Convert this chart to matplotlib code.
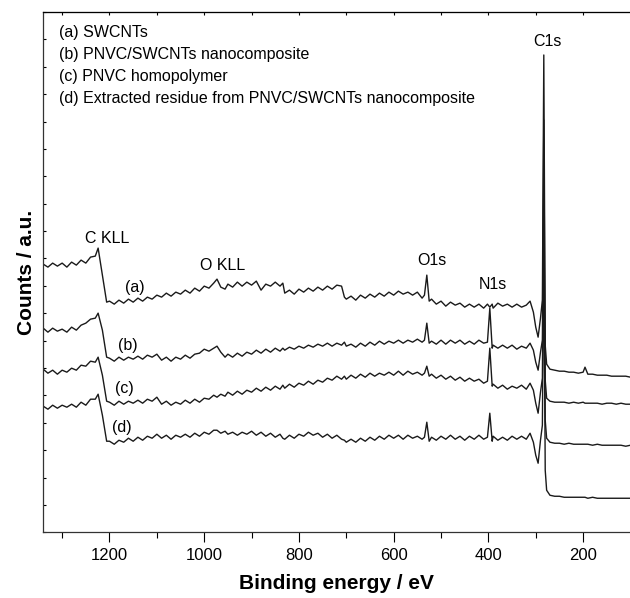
import numpy as np
import matplotlib
matplotlib.use("Agg")
from matplotlib import pyplot as plt
from matplotlib.ticker import MultipleLocator

plt.rcParams["font.family"] = ["Liberation Sans", "DejaVu Sans"]

# binding energy grid (eV), shared by all four survey spectra
energy = [
    1340, 1330, 1320, 1310, 1300, 1290, 1280, 1270, 1260, 1250, 1240, 1230, 1224, 1215, 1206,
    1200, 1190, 1180, 1170, 1160, 1150, 1140, 1130, 1120, 1110, 1100,
    1090, 1080, 1070, 1060, 1050, 1040, 1030, 1020, 1010, 1000,
    990, 980, 973, 965, 956, 950, 940, 930, 920, 910, 900,
    890, 880, 870, 860, 850, 840, 834, 830, 820, 810, 800,
    790, 780, 770, 760, 750, 740, 730, 720, 710, 704, 700,
    690, 680, 670, 660, 650, 640, 630, 620, 610, 600,
    590, 580, 570, 560, 550, 540, 535, 530, 525, 520, 510, 500,
    490, 480, 470, 460, 450, 440, 430, 420, 410, 402, 397, 392,
    390, 380, 370, 360, 350, 340, 330, 320, 312, 305, 300, 295, 290, 286, 283, 280, 277,
    270, 260, 250, 240, 230, 220, 210, 200, 196, 190, 180, 170, 160, 150, 140, 130, 120, 110, 100,
]

# (a) SWCNTs
counts_a = [
    268, 265, 269, 266, 269, 265, 270, 267, 272, 269, 275, 276, 284, 257, 230,
    231, 228, 232, 229, 233, 230, 234, 231, 235, 233, 237,
    235, 239, 236, 240, 238, 242, 239, 244, 241, 246,
    244, 249, 253, 245, 243, 248, 245, 250, 246, 250, 247,
    251, 242, 248, 246, 250, 246, 249, 239, 242, 238, 243,
    240, 244, 241, 245, 242, 246, 243, 247, 246, 235, 233,
    236, 232, 237, 234, 238, 235, 239, 236, 240, 237,
    241, 238, 240, 237, 240, 234, 237, 257, 231, 233, 228, 231,
    226, 230, 227, 229, 225, 228, 225, 228, 224, 228, 225, 228,
    224, 229, 226, 228, 225, 228, 225, 227, 231, 220, 205, 195, 214, 232, 477, 187, 168,
    163, 162, 161, 161, 160, 160, 159, 160, 165, 158, 158, 157, 157, 157, 156, 156, 156, 156, 155,
]

# (b) PNVC/SWCNTs nanocomposite
counts_b = [
    204, 200, 204, 201, 203, 200, 205, 202, 207, 209, 213, 214, 219, 202, 175,
    174, 171, 175, 172, 175, 173, 176, 173, 177, 175, 178,
    172, 175, 171, 175, 173, 177, 174, 178, 179, 183,
    181, 184, 186, 180, 175, 178, 175, 179, 176, 180, 178,
    182, 179, 183, 180, 184, 181, 184, 182, 185, 183, 186,
    184, 187, 185, 188, 186, 189, 186, 189, 187, 190, 186,
    188, 185, 189, 186, 190, 187, 191, 188, 191, 189,
    192, 189, 192, 190, 193, 190, 192, 209, 189, 191, 188, 192,
    188, 192, 189, 192, 188, 191, 188, 192, 189, 190, 224, 184,
    187, 184, 187, 184, 187, 183, 186, 184, 189, 182, 170, 162, 180, 192, 412, 152, 134,
    131, 130, 130, 130, 129, 130, 129, 130, 129, 129, 129, 129, 128, 129, 129, 128, 129, 128, 128,
]

# (c) PNVC homopolymer
counts_c = [
    163, 159, 162, 158, 162, 160, 164, 162, 167, 166, 171, 170, 175, 157, 131,
    130, 127, 131, 128, 131, 129, 132, 129, 133, 131, 135,
    128, 131, 127, 130, 128, 132, 129, 133, 130, 134,
    133, 137, 135, 138, 136, 140, 137, 141, 138, 142, 140,
    144, 141, 145, 142, 146, 143, 147, 144, 148, 145, 149,
    147, 151, 148, 152, 150, 154, 152, 156, 153, 156, 153,
    157, 154, 158, 155, 159, 156, 159, 157, 160, 157,
    161, 157, 161, 158, 160, 157, 159, 166, 156, 158, 154, 157,
    153, 156, 152, 155, 151, 154, 151, 153, 149, 151, 184, 146,
    148, 144, 147, 143, 146, 144, 147, 143, 149, 142, 129, 119, 140, 154, 352, 112, 94,
    90, 89, 89, 88, 89, 88, 88, 88, 88, 88, 87, 88, 87, 87, 87, 87, 87, 86, 87,
]

# (d) extracted residue
counts_d = [
    126, 123, 127, 124, 127, 125, 128, 125, 130, 127, 133, 133, 138, 117, 91,
    91, 88, 92, 90, 94, 91, 95, 92, 96, 94, 98,
    94, 97, 93, 97, 95, 98, 95, 99, 96, 100,
    98, 102, 102, 99, 101, 98, 100, 97, 100, 98, 101,
    97, 100, 96, 99, 95, 98, 94, 93, 97, 94, 98,
    96, 100, 97, 99, 95, 98, 94, 97, 93, 92, 90,
    93, 90, 94, 91, 95, 92, 96, 93, 97, 94,
    97, 93, 97, 94, 96, 93, 95, 110, 91, 95, 92, 96,
    93, 97, 93, 96, 92, 96, 93, 97, 93, 95, 119, 91,
    96, 92, 95, 92, 96, 93, 96, 93, 99, 90, 77, 69, 92, 107, 292, 62, 42,
    37, 36, 36, 35, 35, 35, 35, 35, 35, 34, 35, 34, 34, 34, 34, 34, 34, 34, 34,
]

legend_lines = [
    "(a) SWCNTs",
    "(b) PNVC/SWCNTs nanocomposite",
    "(c) PNVC homopolymer",
    "(d) Extracted residue from PNVC/SWCNTs nanocomposite",
]

fig = plt.figure(figsize=(6.3, 5.98), dpi=100)
ax = fig.add_axes([0.0678, 0.1099, 0.9322, 0.8701])

line_kw = dict(color="#1a1a1a", lw=1.0)
for counts in (counts_a, counts_b, counts_c, counts_d):
    ax.plot(energy, counts, **line_kw)

ax.set_xlim(1341, 101)
ax.set_ylim(0, 520)

ax.xaxis.set_major_locator(MultipleLocator(200))
ax.xaxis.set_minor_locator(MultipleLocator(100))
ax.tick_params(axis="x", which="major", direction="out", length=7.5, width=0.8,
               labelsize=12, pad=4, top=False)
ax.tick_params(axis="x", which="minor", direction="out", length=4.5, width=0.8, top=False)
ax.set_yticks(np.linspace(0, 520, 20))
ax.tick_params(axis="y", direction="in", length=2.5, width=0.8, labelleft=False, right=False)

top = ax.secondary_xaxis("top")
top.xaxis.set_major_locator(MultipleLocator(100))
top.tick_params(direction="in", length=2.5, width=0.8, labeltop=False)

ax.spines["right"].set_visible(False)
for s in ("left", "bottom"):
    ax.spines[s].set_linewidth(0.9)
    ax.spines[s].set_color("#333333")
top.spines["top"].set_linewidth(0.9)
top.spines["top"].set_color("#333333")

ax.set_xlabel("Binding energy / eV", fontsize=15, fontweight="bold", labelpad=8)
ax.set_ylabel("Counts / a.u.", fontsize=15, fontweight="bold", labelpad=5)

for i, txt in enumerate(legend_lines):
    ax.text(0.028, 0.960 - i * 0.0423, txt, transform=ax.transAxes,
            fontsize=11.5, va="center", ha="left")

# peak assignments
peak_labels = [("C KLL", 1205, 294), ("O KLL", 962, 267), ("O1s", 519, 272),
               ("N1s", 390, 248), ("C1s", 276, 490)]
for txt, x, y in peak_labels:
    ax.text(x, y, txt, fontsize=11.5, ha="center", va="center")

curve_tags = [("(a)", 1146, 245), ("(b)", 1162, 187), ("(c)", 1169, 144), ("(d)", 1173, 105)]
for txt, x, y in curve_tags:
    ax.text(x, y, txt, fontsize=11.5, ha="center", va="center")

fig.savefig("out.png", dpi=100)
